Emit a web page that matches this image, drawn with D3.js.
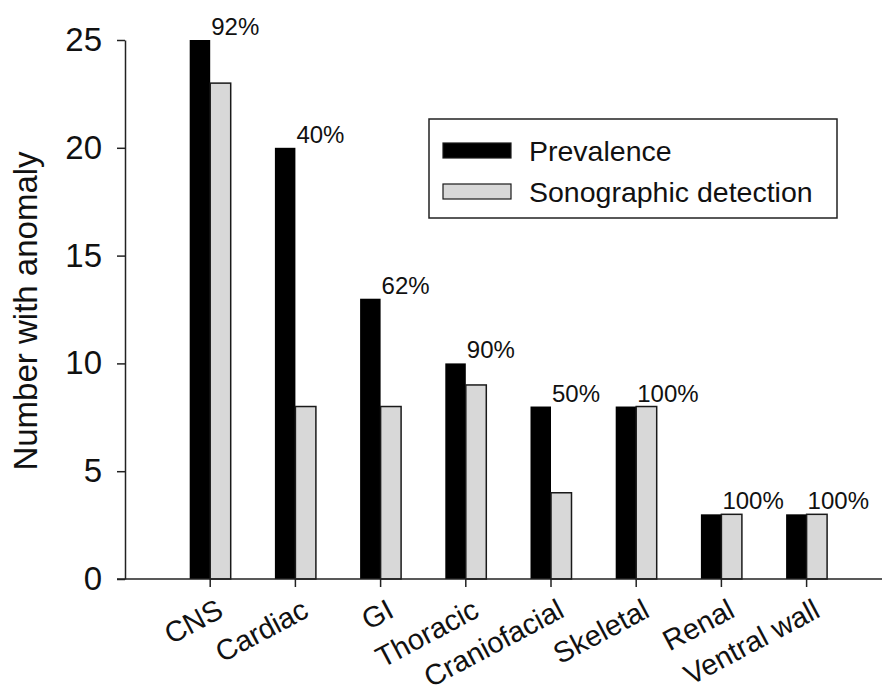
<!DOCTYPE html>
<html>
<head>
<meta charset="utf-8">
<script src="https://cdn.jsdelivr.net/npm/d3@7"></script>
<style>
  body { margin: 0; background: #fff; }
  text { font-family: "Liberation Sans", Arial, sans-serif; fill: #111; }
</style>
</head>
<body>
<div id="chart"></div>
<script>
// Data
var categories = ["CNS", "Cardiac", "GI", "Thoracic", "Craniofacial", "Skeletal", "Renal", "Ventral wall"];
var prevalence = [25, 20, 13, 10, 8, 8, 3, 3];
var detection = [23, 8, 8, 9, 4, 8, 3, 3];
var percentLabels = ["92%", "40%", "62%", "90%", "50%", "100%", "100%", "100%"];
var yTicks = [0, 5, 10, 15, 20, 25];
var seriesNames = ["Prevalence", "Sonographic detection"];

var svgWidth = 882;
var svgHeight = 688;

var svg = d3.select("#chart")
  .append("svg")
  .attr("width", svgWidth)
  .attr("height", svgHeight);

// y axis sits at x=125, zero line at y=579
var yScale = d3.scaleLinear()
  .domain([0, 25])
  .range([579, 40]);

// one band per category, band centre = tick position
var step = 85.2;
var xBand = d3.scaleBand()
  .domain(categories)
  .range([125 + step / 2, 125 + step / 2 + step * categories.length])
  .padding(0);

var barW = 20.5;
function centre(d) { return xBand(d) + xBand.bandwidth() / 2; }

// bars: black prevalence to the left of the tick, grey detection to the right
svg.append("g").selectAll("rect")
  .data(categories)
  .join("rect")
  .attr("x", d => centre(d) - barW)
  .attr("y", (d, i) => yScale(prevalence[i]))
  .attr("width", barW)
  .attr("height", (d, i) => yScale(0) - yScale(prevalence[i]))
  .attr("fill", "#000");

svg.append("g").selectAll("rect")
  .data(categories)
  .join("rect")
  .attr("x", d => centre(d))
  .attr("y", (d, i) => yScale(detection[i]))
  .attr("width", barW)
  .attr("height", (d, i) => yScale(0) - yScale(detection[i]))
  .attr("fill", "#d8d8d8")
  .attr("stroke", "#1a1a1a")
  .attr("stroke-width", 1.5);

// percentage labels
svg.append("g").selectAll("text")
  .data(categories)
  .join("text")
  .attr("x", d => centre(d) + 1)
  .attr("y", (d, i) => yScale(prevalence[i]) - 5)
  .attr("font-size", 24)
  .text((d, i) => percentLabels[i]);

// x axis baseline runs past the y axis to the right edge
svg.append("line")
  .attr("x1", 117).attr("x2", 882)
  .attr("y1", yScale(0)).attr("y2", yScale(0))
  .attr("stroke", "#222").attr("stroke-width", 1.5);

var xAxis = svg.append("g")
  .attr("transform", `translate(0, ${yScale(0)})`)
  .call(d3.axisBottom(xBand).tickSize(8).tickSizeOuter(0));
xAxis.select(".domain").remove();
xAxis.selectAll(".tick line").attr("stroke", "#222").attr("stroke-width", 1.5);
xAxis.selectAll(".tick text")
  .attr("font-size", 29)
  .attr("fill", "#111")
  .attr("text-anchor", "end")
  .attr("dy", null)
  .attr("y", null)
  .attr("transform", "translate(15, 37) rotate(-28)");

// y axis
var yAxis = svg.append("g")
  .attr("transform", "translate(125, 0)")
  .call(d3.axisLeft(yScale).tickValues(yTicks).tickSize(8).tickSizeOuter(0).tickPadding(15));
yAxis.select(".domain").attr("stroke", "#222").attr("stroke-width", 1.5);
yAxis.selectAll(".tick line").attr("stroke", "#222").attr("stroke-width", 1.5);
yAxis.selectAll(".tick text").attr("font-size", 33).attr("fill", "#111");

svg.append("text")
  .attr("transform", "translate(37, 311) rotate(-90)")
  .attr("text-anchor", "middle")
  .attr("font-size", 33)
  .text("Number with anomaly");

// legend
var legend = svg.append("g");
legend.append("rect")
  .attr("x", 429).attr("y", 119)
  .attr("width", 408).attr("height", 99)
  .attr("fill", "#fff").attr("stroke", "#222").attr("stroke-width", 1.5);

var swatchFill = ["#000", "#d8d8d8"];
var rowY = [143, 184];
legend.selectAll(".swatch")
  .data(seriesNames)
  .join("rect")
  .attr("class", "swatch")
  .attr("x", 443)
  .attr("y", (d, i) => rowY[i])
  .attr("width", 68)
  .attr("height", 15)
  .attr("fill", (d, i) => swatchFill[i])
  .attr("stroke", "#1a1a1a")
  .attr("stroke-width", 1.2);

legend.selectAll(".label")
  .data(seriesNames)
  .join("text")
  .attr("class", "label")
  .attr("x", 529)
  .attr("y", (d, i) => rowY[i] + 18)
  .attr("font-size", 28.5)
  .text(d => d);
</script>
</body>
</html>
